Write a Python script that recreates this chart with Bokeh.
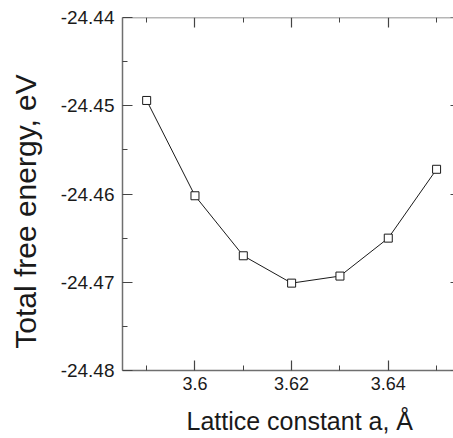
import math
from bokeh.plotting import figure
from bokeh.models import (LinearAxis, FixedTicker, PrintfTickFormatter,
                          CustomJSTickFormatter, Range1d, Label)
from bokeh.core.enums import CoordinateUnits
from bokeh.embed import file_html
from bokeh.resources import INLINE

# ---- data ----
lattice_a = [3.59, 3.60, 3.61, 3.62, 3.63, 3.64, 3.65]
free_energy = [-24.4494, -24.4602, -24.4670, -24.4701, -24.4693, -24.4650, -24.4572]

x_major_ticks = [3.60, 3.62, 3.64]
x_minor_ticks = [3.59, 3.61, 3.63, 3.65]
y_major_ticks = [-24.48, -24.47, -24.46, -24.45, -24.44]
y_minor_ticks = [-24.475, -24.465, -24.455, -24.445]
x_limits = [3.585, 3.6535]
x_right_spine = 3.655
y_limits = [-24.48, -24.44]

x_title = "Lattice constant a,  Å"
y_title = "Total free energy, eV"

SANS = "Liberation Sans"
AXIS_COLOR = "#6f6f6f"
TICK_COLOR = "#444444"
TEXT_COLOR = "#1a1a1a"
UNITS = "canvas" if "canvas" in CoordinateUnits else "screen"

p = figure(width=453, height=438, output_backend="svg", toolbar_location=None,
           x_range=Range1d(*x_limits), y_range=Range1d(*y_limits),
           x_axis_location=None, y_axis_location=None,
           min_border_left=122, min_border_top=17, min_border_bottom=68,
           min_border_right=0)
p.outline_line_color = None
p.background_fill_color = "white"
p.border_fill_color = "white"
for g in p.grid:
    g.visible = False


def make_axis(ticks, minor, formatter, loc=None, line=True):
    ax = LinearAxis(ticker=FixedTicker(ticks=ticks, minor_ticks=minor),
                    formatter=formatter, fixed_location=loc)
    ax.major_tick_in = 10
    ax.major_tick_out = 0
    ax.minor_tick_in = 5
    ax.minor_tick_out = 0
    ax.axis_line_color = AXIS_COLOR if line else None
    ax.axis_line_width = 1.5
    ax.major_tick_line_color = TICK_COLOR
    ax.minor_tick_line_color = TICK_COLOR
    ax.major_tick_line_width = 1.2
    ax.minor_tick_line_width = 1.0
    ax.major_label_text_font = SANS
    ax.major_label_text_color = TEXT_COLOR
    return ax


x_fmt = CustomJSTickFormatter(code="return String(Number(tick.toFixed(4)));")
y_fmt = PrintfTickFormatter(format="%.2f")
blank = CustomJSTickFormatter(code="return '';")

bottom = make_axis(x_major_ticks, x_minor_ticks, x_fmt)
bottom.major_label_text_font_size = "18px"
bottom.major_label_standoff = 6
left = make_axis(y_major_ticks, y_minor_ticks, y_fmt)
left.major_label_text_font_size = "19px"
left.major_label_standoff = 8
top = make_axis(x_major_ticks, x_minor_ticks, blank, y_limits[1])
top.major_label_standoff = 0
top.major_label_text_font_size = "1px"
right = make_axis(y_major_ticks, y_minor_ticks, blank, x_right_spine, line=False)
right.major_label_standoff = 0
right.major_label_text_font_size = "1px"

p.add_layout(bottom, "below")
p.add_layout(left, "left")
p.add_layout(top, "above")
p.add_layout(right, "right")

# data
p.line(lattice_a, free_energy, line_color="#1a1a1a", line_width=1)
p.scatter(lattice_a, free_energy, marker="square", size=8,
          line_color="#1a1a1a", line_width=1, fill_color="white")

# axis titles
p.add_layout(Label(x=186, y=420, x_units=UNITS, y_units=UNITS,
                   text=x_title, text_font=SANS,
                   text_font_size="25px", text_color=TEXT_COLOR,
                   text_baseline="alphabetic", text_align="left"), "below")
p.add_layout(Label(x=25, y=211, x_units=UNITS, y_units=UNITS,
                   text=y_title, text_font=SANS, angle=math.pi / 2,
                   text_font_size="30px", text_color=TEXT_COLOR,
                   text_baseline="alphabetic", text_align="center"), "left")

open("out.html", "w").write(file_html(p, INLINE))
